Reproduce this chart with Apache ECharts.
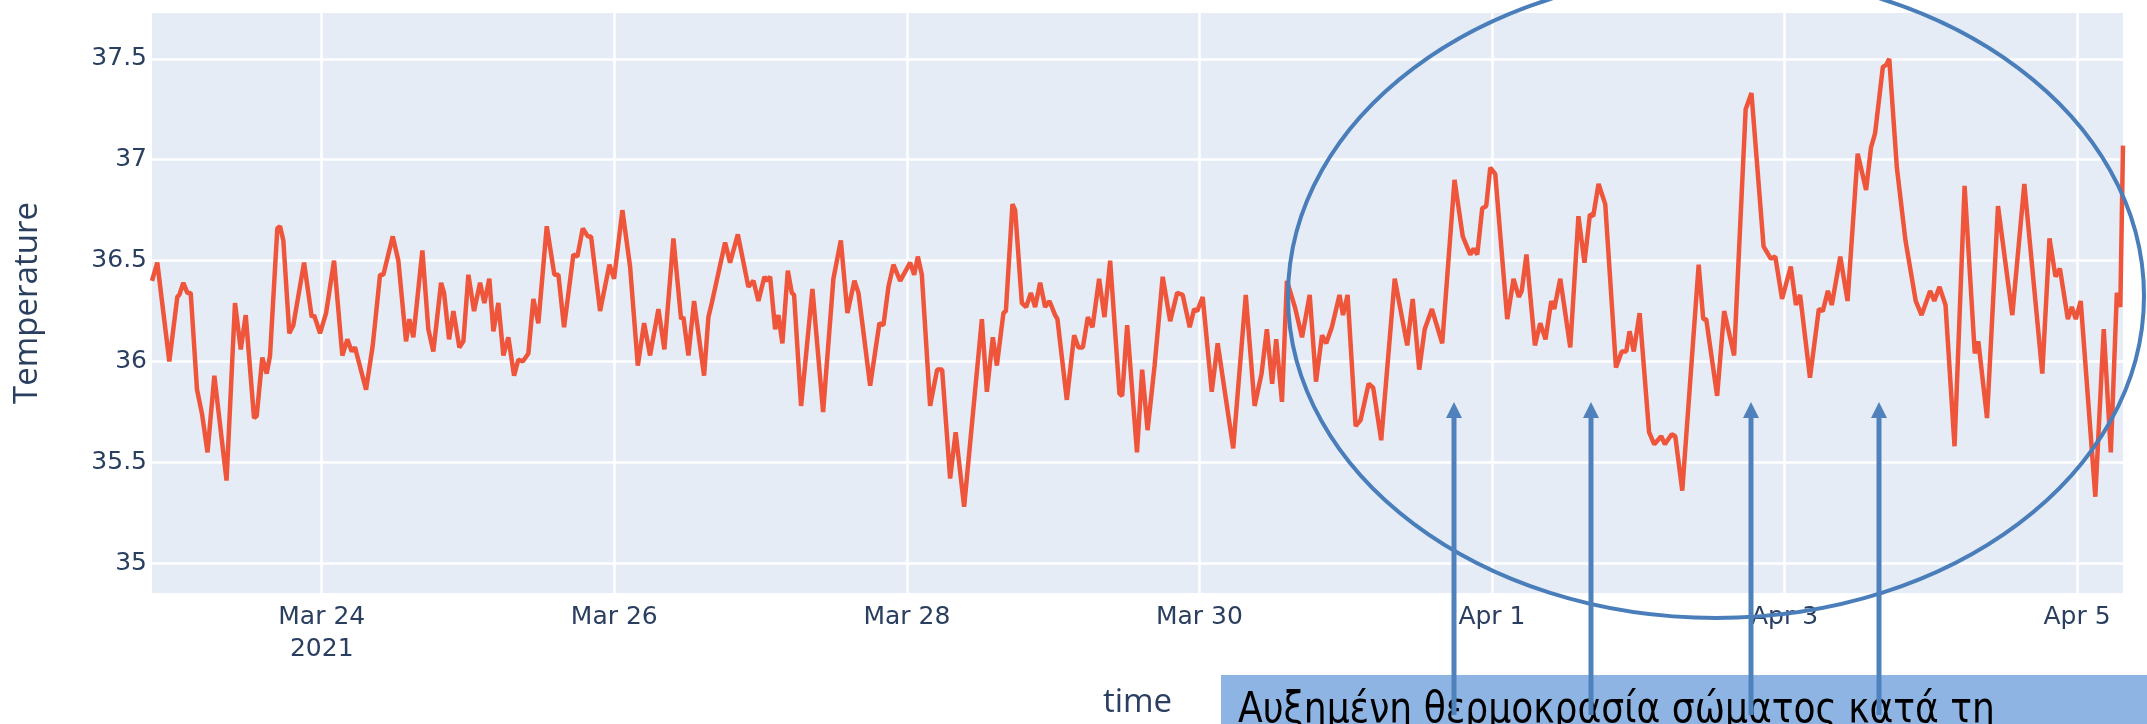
<!DOCTYPE html>
<html>
<head>
<meta charset="utf-8">
<script src="https://cdn.jsdelivr.net/npm/echarts@6/dist/echarts.min.js"></script>
<style>
html,body{margin:0;padding:0;background:#ffffff;}
#chart{width:2147px;height:724px;}
</style>
</head>
<body>
<div id="chart"></div>
<script>
// ---- data ----
// hours after 2021-03-24 00:00
const hoursSinceMar24 = [
-27.85,-26.98,-25.01,-23.70,-23.37,-22.71,-22.05,-21.50,-20.46,-19.64,
-18.74,-17.62,-15.62,-14.23,-13.29,-12.47,-11.11,-10.67,-9.75,-9.03,
-8.48,-7.29,-6.84,-6.30,-5.32,-4.66,-2.90,-1.64,-1.26,-0.28,
0.71,2.02,3.38,4.20,4.92,5.46,7.27,8.37,9.57,10.11,
11.65,12.57,13.83,14.38,15.03,16.51,17.49,18.31,19.58,20.07,
20.89,21.60,22.58,23.24,24.06,24.99,25.98,26.68,27.50,28.16,
28.98,29.80,30.62,31.56,32.26,32.98,33.90,34.72,35.54,36.92,
38.17,38.83,39.76,41.29,41.94,42.83,43.65,44.19,45.67,47.20,
47.97,49.33,50.59,51.86,52.89,53.87,55.24,56.22,57.70,58.96,
59.34,60.16,61.09,62.73,63.44,64.00,66.18,67.00,68.27,70.00,
70.83,71.65,72.63,73.02,73.57,74.39,74.93,75.58,76.47,77.13,
77.50,78.65,80.51,82.26,83.95,85.17,86.25,87.40,88.06,88.61,
89.98,91.50,92.16,92.98,93.80,94.90,96.54,97.20,97.80,98.46,
99.82,100.97,101.79,103.10,104.01,105.40,108.31,109.13,110.11,110.77,
111.85,112.25,113.33,113.77,114.87,115.58,116.35,117.05,117.87,118.69,
119.40,120.33,120.71,122.25,123.45,124.16,124.88,125.70,126.46,127.55,
128.42,129.36,130.89,131.33,132.15,133.76,134.61,135.50,136.65,137.98,
139.21,140.35,141.26,142.41,143.14,143.64,144.54,146.03,147.00,149.55,
151.61,153.06,154.20,155.07,155.94,156.60,157.55,158.36,159.67,160.84,
162.10,163.13,164.12,164.81,165.73,166.99,167.56,168.32,169.63,170.45,
171.76,172.52,173.83,176.05,178.10,179.00,180.07,180.97,182.15,183.84,
185.86,187.21,188.44,189.01,189.59,190.41,191.06,191.72,192.54,194.51,
195.54,196.40,196.89,197.66,199.05,199.92,200.79,201.73,202.22,203.21,
204.85,206.19,207.18,208.08,208.62,209.49,210.59,212.35,213.30,214.04,
214.58,215.27,216.23,217.78,218.63,219.78,220.37,221.50,222.08,223.23,
225.92,226.67,227.16,228.95,230.10,231.73,233.63,234.58,236.57,237.75,
238.49,239.60,241.03,241.88,242.56,244.18,245.64,246.28,247.12,247.76,
249.15,250.35,252.01,253.39,254.19,254.86,256.14,256.70,257.19,258.44,
259.85,261.53,262.49,263.89,264.58,265.43,266.42,267.90,269.55,271.22,
271.80,273.23,275.03,277.38,279.35,282.30,283.48,284.47,285.19,286.49,
287.14,287.80,288.60,291.00,292.38,293.54,294.53,295.10,295.54
];
const temperature = [
36.40,36.49,36.00,36.32,36.33,36.39,36.34,36.34,35.86,35.74,
35.55,35.93,35.41,36.29,36.06,36.23,35.72,35.73,36.02,35.94,
36.03,36.66,36.67,36.60,36.14,36.18,36.49,36.22,36.23,36.14,
36.24,36.50,36.03,36.11,36.05,36.07,35.86,36.08,36.43,36.43,
36.62,36.50,36.10,36.21,36.12,36.55,36.16,36.05,36.39,36.34,
36.11,36.25,36.07,36.10,36.43,36.25,36.39,36.29,36.41,36.15,
36.29,36.03,36.12,35.93,36.01,36.00,36.04,36.31,36.19,36.67,
36.43,36.43,36.17,36.53,36.52,36.66,36.62,36.62,36.25,36.48,
36.41,36.75,36.47,35.98,36.19,36.03,36.26,36.06,36.61,36.21,
36.22,36.03,36.30,35.93,36.22,36.29,36.59,36.49,36.63,36.37,
36.40,36.30,36.42,36.40,36.42,36.16,36.23,36.09,36.45,36.34,
36.33,35.78,36.36,35.75,36.41,36.60,36.24,36.40,36.34,36.21,
35.88,36.19,36.18,36.37,36.48,36.40,36.49,36.43,36.52,36.43,
35.78,35.96,35.96,35.42,35.65,35.28,36.21,35.85,36.12,35.98,
36.24,36.25,36.78,36.75,36.29,36.27,36.34,36.27,36.39,36.27,
36.30,36.23,36.21,35.81,36.13,36.07,36.07,36.22,36.17,36.41,
36.22,36.50,35.84,35.83,36.18,35.55,35.96,35.66,35.98,36.42,
36.20,36.34,36.33,36.17,36.26,36.25,36.32,35.85,36.09,35.57,
36.33,35.78,35.94,36.16,35.89,36.11,35.80,36.40,36.27,36.12,
36.33,35.90,36.13,36.09,36.17,36.33,36.23,36.33,35.68,35.71,
35.89,35.87,35.61,36.41,36.08,36.31,35.96,36.16,36.26,36.09,
36.90,36.62,36.53,36.56,36.53,36.76,36.77,36.96,36.93,36.21,
36.41,36.32,36.35,36.53,36.08,36.19,36.11,36.30,36.26,36.41,
36.07,36.72,36.49,36.73,36.72,36.88,36.78,35.97,36.05,36.05,
36.15,36.05,36.24,35.65,35.59,35.63,35.59,35.64,35.63,35.36,
36.48,36.21,36.21,35.83,36.25,36.03,37.25,37.33,36.57,36.51,
36.52,36.31,36.47,36.28,36.33,35.92,36.26,36.25,36.35,36.28,
36.52,36.30,37.03,36.85,37.06,37.13,37.46,37.47,37.50,36.96,
36.60,36.30,36.23,36.35,36.30,36.37,36.28,35.58,36.87,36.04,
36.10,35.72,36.77,36.23,36.88,35.94,36.61,36.42,36.46,36.21,
36.27,36.21,36.30,35.33,36.16,35.55,36.34,36.27,37.07
];
const xTickDates  = ['2021-03-24','2021-03-26','2021-03-28','2021-03-30','2021-04-01','2021-04-03','2021-04-05'];
const xTickLabels = ['Mar 24\n2021','Mar 26','Mar 28','Mar 30','Apr 1','Apr 3','Apr 5'];
const yTicks = [35, 35.5, 36, 36.5, 37, 37.5];
const yRange = [34.853, 37.727];
const xTitle = 'time';
const yTitle = 'Temperature';
const noteText = 'Αυξημένη θερμοκρασία σώματος κατά τη';

// ---- build ----
const HOUR = 3600 * 1000;
const base = Date.parse('2021-03-24T00:00:00Z');
const seriesData = hoursSinceMar24.map((h, i) => [h, temperature[i]]);
const xTickValues = xTickDates.map(d => Math.round((Date.parse(d + 'T00:00:00Z') - base) / HOUR));
const labelMap = {};
xTickValues.forEach((v, i) => { labelMap[v] = xTickLabels[i]; });

const tickColor = '#2a3f5f';
const tickFont = 'DejaVu Sans';
const titleFont = 'Open Sans';

const arrowXs = [1454, 1591, 1751, 1879];
const arrowColor = '#4F81BD';
const graphics = [
  { type: 'rect', z: 100, shape: { x: 1221, y: 675, width: 930, height: 60 }, style: { fill: '#8EB4E3' } },
  { type: 'text', z: 101, x: 1238, y: 689, scaleX: 0.84,
    style: { text: noteText, x: 0, y: 0, fontSize: 43, fontFamily: 'DejaVu Sans', fill: '#000000', verticalAlign: 'top' } },
  { type: 'ellipse', z: 102, shape: { cx: 1716, cy: 296, rx: 428, ry: 322 }, style: { fill: 'none', stroke: '#4A7EBB', lineWidth: 4 } }
];
arrowXs.forEach(x => {
  graphics.push({ type: 'line', z: 103, shape: { x1: x, y1: 416, x2: x, y2: 715 }, style: { stroke: arrowColor, lineWidth: 5 } });
  graphics.push({ type: 'polygon', z: 103, shape: { points: [[x, 402], [x - 8, 418], [x + 8, 418]] }, style: { fill: arrowColor } });
});

const chart = echarts.init(document.getElementById('chart'), null, { renderer: 'canvas' });
chart.setOption({
  animation: false,
  backgroundColor: '#ffffff',
  grid: { left: 152, right: 24, top: 13, bottom: 127, show: true, backgroundColor: '#E5ECF6', borderWidth: 0 },
  xAxis: {
    type: 'value',
    min: hoursSinceMar24[0],
    max: hoursSinceMar24[hoursSinceMar24.length - 1],
    axisLine: { show: false },
    axisTick: { show: false, customValues: xTickValues },
    axisLabel: {
      customValues: xTickValues,
      formatter: v => labelMap[Math.round(v)] || '',
      color: tickColor, fontSize: 25, fontFamily: tickFont, margin: 8, lineHeight: 32
    },
    splitLine: { show: true, lineStyle: { color: '#ffffff', width: 2.5 } },
    name: xTitle, nameLocation: 'middle', nameGap: 93,
    nameTextStyle: { color: tickColor, fontSize: 33, fontFamily: titleFont }
  },
  yAxis: {
    type: 'value',
    min: yRange[0], max: yRange[1],
    axisLine: { show: false },
    axisTick: { show: false, customValues: yTicks },
    axisLabel: { customValues: yTicks, color: tickColor, fontSize: 25, fontFamily: tickFont, margin: 5 },
    splitLine: { show: true, lineStyle: { color: '#ffffff', width: 2.5 } },
    name: yTitle, nameLocation: 'middle', nameGap: 108,
    nameTextStyle: { color: tickColor, fontSize: 33, fontFamily: titleFont }
  },
  series: [{
    type: 'line', data: seriesData, showSymbol: false, symbol: 'none',
    lineStyle: { color: '#EF553B', width: 4.5 }, z: 2
  }],
  graphic: graphics
});
</script>
</body>
</html>
